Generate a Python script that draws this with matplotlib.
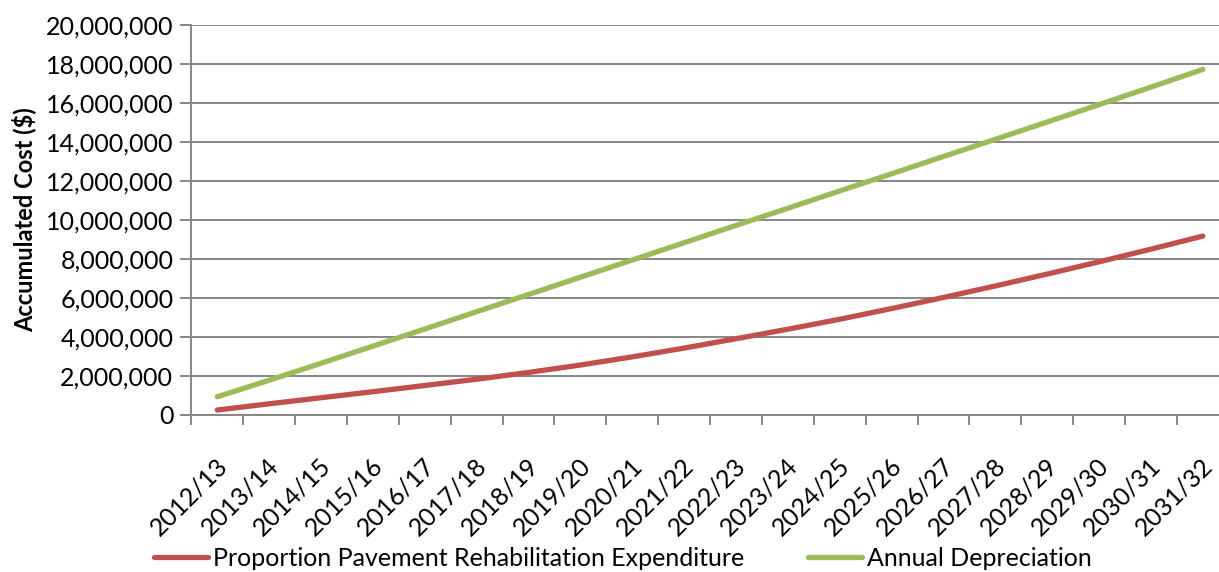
import numpy as np
import matplotlib
matplotlib.use("Agg")
import matplotlib.pyplot as plt
import matplotlib.transforms as mtransforms
from matplotlib.ticker import FuncFormatter, FixedLocator

plt.rcParams["font.family"] = ["Lato", "DejaVu Sans"]

years = ["2012/13", "2013/14", "2014/15", "2015/16", "2016/17", "2017/18",
         "2018/19", "2019/20", "2020/21", "2021/22", "2022/23", "2023/24",
         "2024/25", "2025/26", "2026/27", "2027/28", "2028/29", "2029/30",
         "2030/31", "2031/32"]

# accumulated cost, $
rehab_expenditure = [240000, 560000, 870000, 1180000, 1500000, 1820000,
                     2170000, 2550000, 2970000, 3420000, 3900000, 4390000,
                     4900000, 5450000, 6020000, 6610000, 7220000, 7850000,
                     8500000, 9170000]
annual_depreciation = [920000, 1770000, 2640000, 3520000, 4400000, 5290000,
                       6170000, 7060000, 7940000, 8830000, 9720000, 10600000,
                       11490000, 12370000, 13260000, 14140000, 15030000,
                       15920000, 16820000, 17730000]

red = "#C0504D"
green = "#9BBB59"
grid_col = "#878787"

fig = plt.figure(figsize=(12.19, 5.72), dpi=100)
# plot area runs slightly past the right edge of the image
ax = fig.add_axes([0.157, 0.275, 0.851, 0.681])

x = np.arange(len(years)) + 0.5
ax.plot(x, rehab_expenditure, color=red, lw=3.8, solid_capstyle="round",
        label="Proportion Pavement Rehabilitation Expenditure", zorder=3)
ax.plot(x, annual_depreciation, color=green, lw=3.8, solid_capstyle="round",
        label="Annual Depreciation", zorder=3)

ax.set_xlim(0, len(years))
ax.set_ylim(0, 20000000)
ax.set_yticks(np.arange(0, 20000001, 2000000))
ax.yaxis.set_major_formatter(FuncFormatter(lambda v, p: f"{int(v):,}"))
ax.grid(axis="y", color=grid_col, lw=1.4)
ax.set_axisbelow(True)

ax.set_xticks(x)
ax.set_xticklabels(years, rotation=45, ha="right", va="center",
                   rotation_mode="anchor")
ax.xaxis.set_minor_locator(FixedLocator(np.arange(len(years) + 1)))
ax.tick_params(axis="x", which="major", length=0, pad=34, labelsize=18)
ax.tick_params(axis="x", which="minor", length=7, width=1.4, color=grid_col)
ax.tick_params(axis="y", length=8, width=1.4, color=grid_col, labelsize=18,
               pad=5)

# nudge the slanted year labels a little to the right
shift = mtransforms.ScaledTranslation(6 / 100, 0, fig.dpi_scale_trans)
for lbl in ax.get_xticklabels():
    lbl.set_transform(lbl.get_transform() + shift)

for side in ["top", "right"]:
    ax.spines[side].set_visible(False)
for side in ["left", "bottom"]:
    ax.spines[side].set_color(grid_col)
    ax.spines[side].set_linewidth(1.4)

ax.set_ylabel("Accumulated Cost ($)", fontsize=17, fontweight="bold")
ax.yaxis.set_label_coords(-0.150, 0.5)

fig.legend(loc="lower left", bbox_to_anchor=(0.108, -0.035), ncol=2,
           frameon=False, fontsize=18, handlelength=2.16, handletextpad=0.2,
           columnspacing=2.56)

fig.savefig("out.png", dpi=100)
